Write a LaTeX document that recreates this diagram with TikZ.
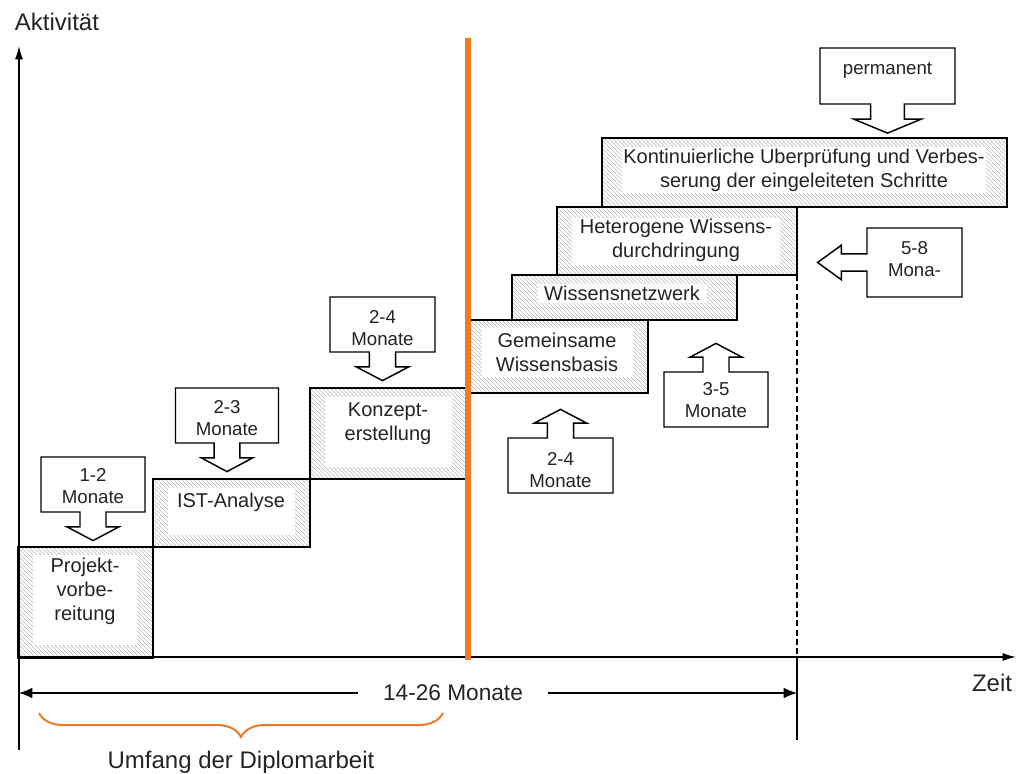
\documentclass[tikz,border=0pt]{standalone}
\usepackage{fontspec}
\setmainfont{Liberation Sans}
\usetikzlibrary{arrows.meta,patterns,decorations.pathreplacing}
\definecolor{O}{RGB}{240, 122, 38}
\definecolor{T}{RGB}{35, 35, 40}

\tikzset{
  stufe/.style={draw, line width=1.2pt, pattern=north west lines, pattern color=gray!55},
  txt/.style={align=center, text=T, font=\fontsize{15}{18}\selectfont},
  hinweis/.style={align=center, text=T, font=\fontsize{14}{16}\selectfont},
  pfeil/.style={draw, fill=white, line width=1.1pt},
  achse/.style={line width=0.9pt}
}

% Kasten mit Pfeil (Mitte x, Mitte y, Breite, Hoehe, Drehung)
\newcommand{\Pfeilbox}[5]{%
  \begin{scope}[shift={(#1,#2)}, rotate=#5]
    \draw[pfeil] ({-#3/2},{-#4/2}) -- ({#3/2},{-#4/2}) -- ({#3/2},{#4/2})
      -- ({0.125*#3},{#4/2}) -- ({0.125*#3},{0.77*#4}) -- ({0.25*#3},{0.77*#4})
      -- (0,{1.02*#4}) -- ({-0.25*#3},{0.77*#4}) -- ({-0.125*#3},{0.77*#4})
      -- ({-0.125*#3},{#4/2}) -- ({-#3/2},{#4/2}) -- cycle;
  \end{scope}}

\begin{document}
\begin{tikzpicture}[x=0.75pt, y=-0.75pt]
	\useasboundingbox (0,0) rectangle (1018,774);

	% Stufen
	\draw[stufe] (18,547) rectangle (153,658);
	\fill[white] (33,555) rectangle (137,645);
	\node[txt] (projekt) at (85,591) {Projekt-\\vorbe-\\reitung};

	\draw[stufe] (153,479) rectangle (310,547);
	\fill[white] (168,488) rectangle (295,535);
	\node[txt] (ist) at (231,502) {IST-Analyse};

	\draw[stufe] (310,388) rectangle (466,479);
	\fill[white] (325,397) rectangle (452,467);
	\node[txt] (konzept) at (388,424) {Konzept-\\erstellung};

	\draw[stufe] (470,320) rectangle (648,393);
	\fill[white] (482,328) rectangle (633,377);
	\node[txt] (basis) at (557,352) {Gemeinsame\\Wissensbasis};

	\draw[stufe] (512,275) rectangle (737,320);
	\fill[white] (538,284) rectangle (707,303);
	\node[txt] (netz) at (622,293) {Wissensnetzwerk};

	\draw[stufe] (557,207) rectangle (797,275);
	\fill[white] (572,218) rectangle (780,265);
	\node[txt] (hetero) at (676,240) {Heterogene Wissens-\\durchdringung};

	\draw[stufe] (602,138) rectangle (1007,207);
	\node[txt, fill=white, inner sep=1pt] (kont) at (804,170) {Kontinuierliche Uberprüfung und Verbes-\\serung der eingeleiteten Schritte};

	% Achsen
	\draw[achse, -{Latex[length=10pt,width=6pt]}] (19,750) -- (19,46);
	\draw[achse, -{Latex[length=10pt,width=6pt]}] (19,657) -- (1016,657);
	\node[text=T, font=\fontsize{18}{20}\selectfont] (aktiv) at (57,22) {Aktivität};
	\node[text=T, font=\fontsize{18}{20}\selectfont] (zeit) at (992,683) {Zeit};

	% Grenze der Diplomarbeit
	\draw[O, line width=4.5pt] (468,38) -- (468,660);
	\draw[achse, dash pattern=on 4.5pt off 2.5pt] (797,275) -- (797,657);
	\draw[achse] (797,657) -- (797,740);

	% Gesamtdauer
	\coordinate (links) at (19,693);
	\coordinate (rechts) at (797,693);
	\draw[achse, {Latex[length=10pt,width=8pt]}-{Latex[length=10pt,width=8pt]}] (links) -- (rechts);
	\node[fill=white, inner xsep=19pt, text=T, font=\fontsize{17}{19}\selectfont] (dauer) at (453,693) {14-26 Monate};

	% Klammer
	\draw[O, line width=1.5pt, decorate, decoration={brace, amplitude=18pt}] (443,713) -- (39,713);
	\node[text=T, font=\fontsize{18}{20}\selectfont] (umfang) at (241,762) {Umfang der Diplomarbeit};

	% Dauer der Stufen
	\Pfeilbox{93}{484.5}{104}{55}{0}
	\node[hinweis] (m12) at (93,486) {1-2\\Monate};
	\Pfeilbox{227}{415.5}{103}{55}{0}
	\node[hinweis] (m23) at (227,418) {2-3\\Monate};
	\Pfeilbox{382.5}{324.5}{105}{55}{0}
	\node[hinweis] (m24a) at (382.5,328) {2-4\\Monate};
	\Pfeilbox{560.5}{465.5}{105}{55}{180}
	\node[hinweis] (m24b) at (560.5,470) {2-4\\Monate};
	\Pfeilbox{716}{399.5}{104}{55}{180}
	\node[hinweis] (m35) at (716,400) {3-5\\Monate};
	\Pfeilbox{887.5}{76}{135}{56}{0}
	\node[hinweis] (perm) at (887.5,70) {permanent};
	\Pfeilbox{914.5}{262.5}{69}{95}{-90}
	\node[hinweis] (m58) at (914.5,259) {5-8\\Mona-};
\end{tikzpicture}
\end{document}
